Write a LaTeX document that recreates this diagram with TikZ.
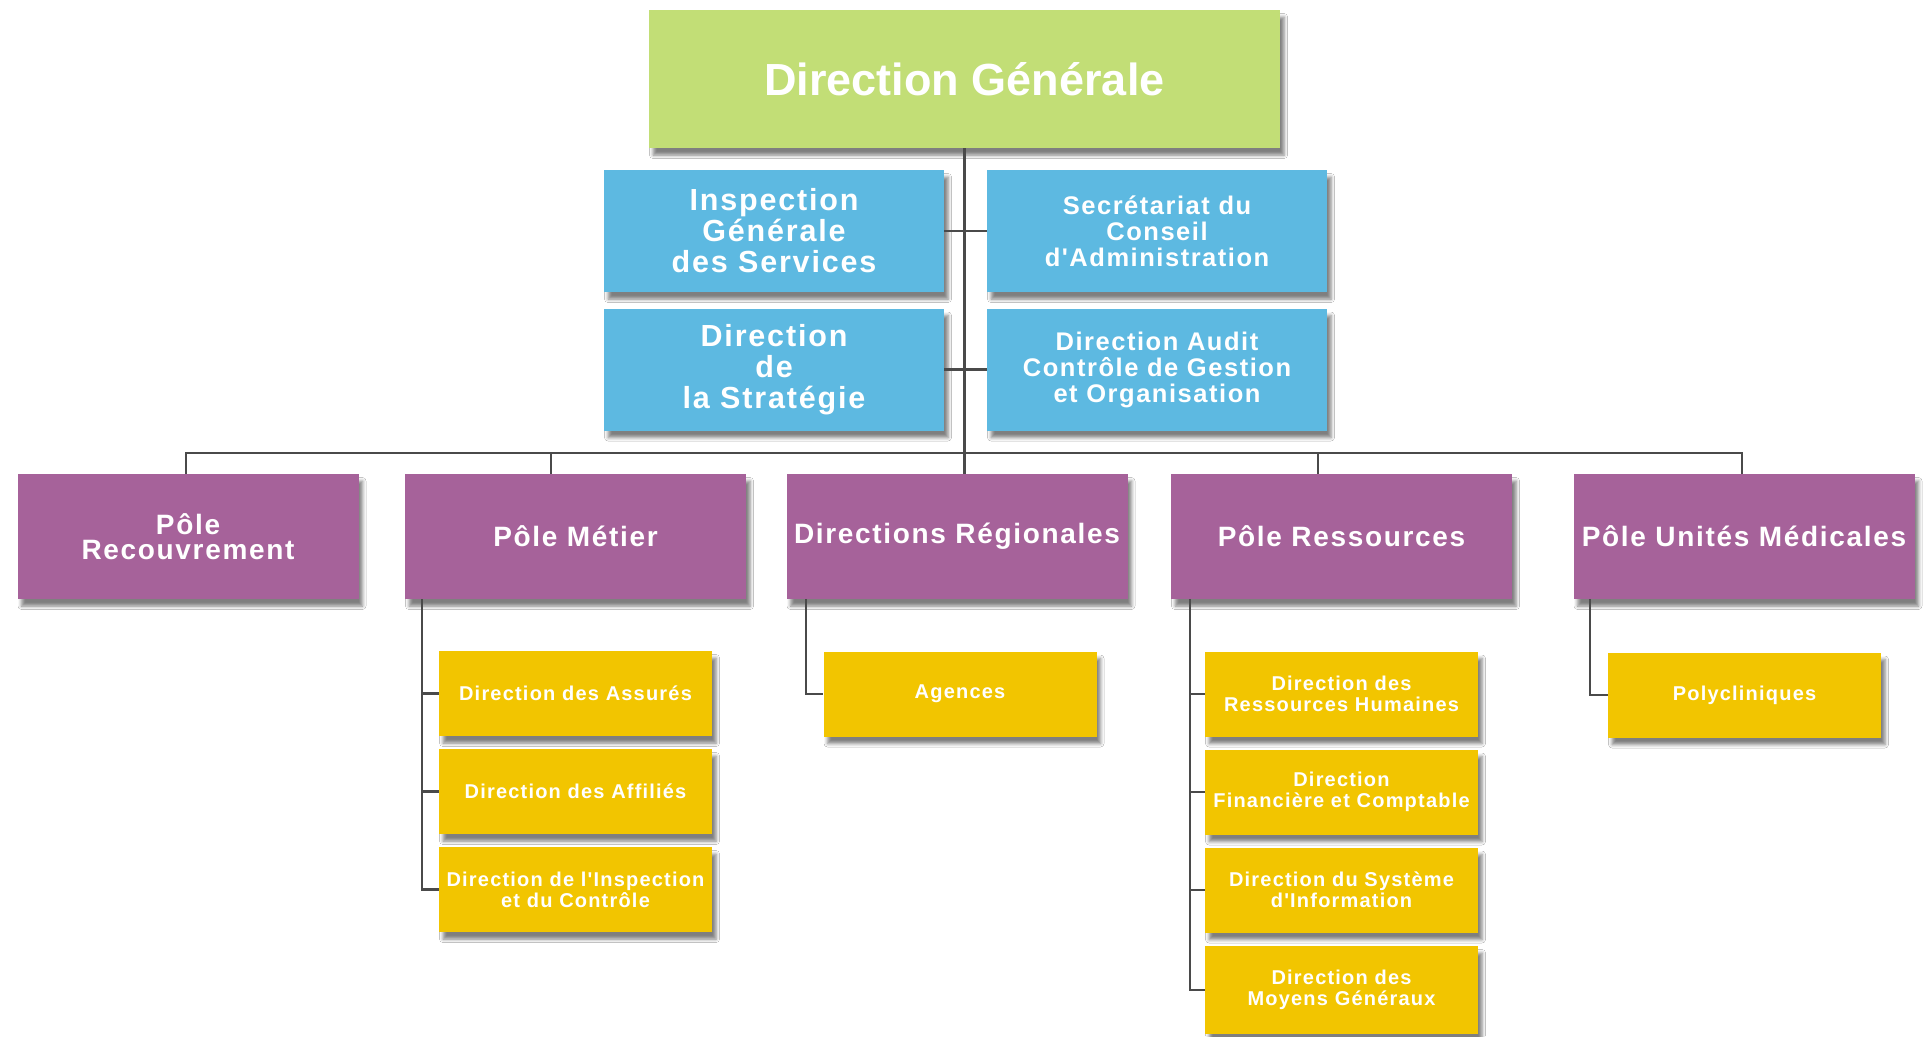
\documentclass[tikz,border=0pt]{standalone}
\usepackage{fontspec}
\setmainfont{Liberation Sans}
\newfontfamily\spacedfont[LetterSpace=6]{Liberation Sans}
\newfontfamily\plainfont{Liberation Sans}
\usetikzlibrary{shadows.blur}
\definecolor{cgreen}{HTML}{C2DE76}
\definecolor{cblue}{HTML}{5DB9E1}
\definecolor{cpurple}{HTML}{A6629A}
\definecolor{cyellow}{HTML}{F2C500}
\definecolor{lgray}{HTML}{4A4A4A}
\begin{document}
\begin{tikzpicture}[x=1pt,y=-1pt,
  base/.style={rectangle, inner sep=0pt, align=center, text=white,
    blur shadow={shadow xshift=4pt, shadow yshift=-7pt, shadow blur radius=3.5pt, shadow opacity=50}},
  gbox/.style={base, fill=cgreen, minimum width=631pt, minimum height=138pt,
    font=\plainfont\bfseries\fontsize{45}{50}\selectfont},
  bbox/.style={base, fill=cblue, minimum width=340pt, minimum height=122pt},
  bigb/.style={bbox, font=\spacedfont\bfseries\fontsize{30.5}{31}\selectfont},
  smallb/.style={bbox, font=\spacedfont\bfseries\fontsize{25.5}{26}\selectfont},
  pbox/.style={base, fill=cpurple, minimum width=341pt, minimum height=125pt,
    font=\spacedfont\bfseries\fontsize{28}{25}\selectfont},
  ybox/.style={base, fill=cyellow, minimum width=273pt, minimum height=85pt,
    font=\spacedfont\bfseries\fontsize{20}{21}\selectfont},
  conn/.style={draw=lgray, line width=2.2pt}]
\useasboundingbox[fill=white] (0,0) rectangle (1930,1036);

% top
\node[gbox] (dg) at (964.5,79) {Direction Générale};
\node[bigb] (igs) at (774,231) {Inspection\\Générale\\des Services};
\node[smallb] (sca) at (1157,231) {Secrétariat du\\Conseil\\d'Administration};
\node[bigb] (ds) at (774,369.5) {Direction\\de\\la Stratégie};
\node[smallb] (dac) at (1157,369.5) {Direction Audit\\Contrôle de Gestion\\et Organisation};

% poles
\node[pbox] (rec) at (188,536.5) {Pôle\\Recouvrement};
\node[pbox] (met) at (575.5,536.5) {Pôle Métier};
\node[pbox] (dr) at (957,536.5) {Directions Régionales};
\node[pbox] (res) at (1341.5,536.5) {Pôle Ressources};
\node[pbox] (pum) at (1744,536.5) {Pôle Unités Médicales};

% yellow
\node[ybox] (m1) at (575.5,693.5) {Direction des Assurés};
\node[ybox] (m2) at (575.5,791.5) {Direction des Affiliés};
\node[ybox] (m3) at (575.5,889.5) {Direction de l'Inspection\\et du Contrôle};
\node[ybox] (ag) at (960,694) {Agences};
\node[ybox] (r1) at (1341.5,694) {Direction des\\Ressources Humaines};
\node[ybox] (r2) at (1341.5,792) {Direction\\Financière et Comptable};
\node[ybox] (r3) at (1341.5,890) {Direction du Système\\d'Information};
\node[ybox, minimum height=88pt] (r4) at (1341.5,990) {Direction des\\Moyens Généraux};
\node[ybox] (pc) at (1744.5,695) {Polycliniques};

% connectors
\coordinate (b1) at (186,453);
\coordinate (b2) at (551,453);
\coordinate (b4) at (1318,453);
\coordinate (b5) at (1742,453);
\coordinate (sm) at (422,600);
\coordinate (sd) at (806,600);
\coordinate (sr) at (1190,600);
\coordinate (sp) at (1590,600);

\draw[conn] (dg.south) -- (dg.south |- dr.north);
\draw[conn] (igs.east) -- (sca.west);
\draw[conn] (ds.east) -- (dac.west);
\draw[conn] (b1 |- rec.north) -- (b1) -- (b5) -- (b5 |- pum.north);
\draw[conn] (b2) -- (b2 |- met.north);
\draw[conn] (b4) -- (b4 |- res.north);

\draw[conn] (sm |- met.south) |- (m3.west);
\draw[conn] (sm |- m1.west) -- (m1.west);
\draw[conn] (sm |- m2.west) -- (m2.west);

\draw[conn] (sd |- dr.south) |- (ag.west);

\draw[conn] (sr |- res.south) |- (r4.west);
\draw[conn] (sr |- r1.west) -- (r1.west);
\draw[conn] (sr |- r2.west) -- (r2.west);
\draw[conn] (sr |- r3.west) -- (r3.west);

\draw[conn] (sp |- pum.south) |- (pc.west);
\end{tikzpicture}
\end{document}
